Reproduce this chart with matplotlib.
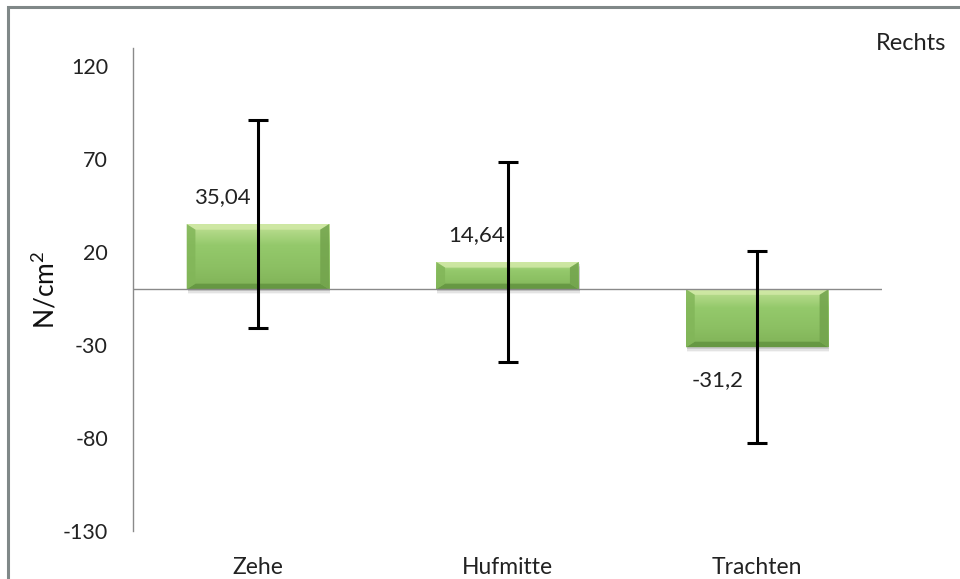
import numpy as np
import matplotlib.pyplot as plt
from matplotlib.patches import Rectangle, Polygon
from matplotlib.colors import LinearSegmentedColormap

plt.rcParams['font.family'] = ['Lato', 'DejaVu Sans']
plt.rcParams['mathtext.fontset'] = 'custom'
plt.rcParams['mathtext.rm'] = 'Lato'

# Data
categories = ['Zehe', 'Hufmitte', 'Trachten']
means = [35.04, 14.64, -31.2]
errors = [56.0, 54.0, 51.5]
labels = ['35,04', '14,64', '-31,2']
yticks = [-130, -80, -30, 20, 70, 120]
panel_title = 'Rechts'

fig = plt.figure(figsize=(9.6, 5.79), dpi=100)
ax = fig.add_axes([133 / 960, 48 / 579, 749 / 960, 483.5 / 579])

x = np.arange(len(categories))
bar_w = 0.57
bars = ax.bar(x, means, width=bar_w, color='#8cc264', zorder=2)

cmap = LinearSegmentedColormap.from_list(
    'bevel_green', ['#c2e197', '#94c96b', '#8cc063', '#80b257'])
grad = np.linspace(0, 1, 64).reshape(-1, 1)

for rect in bars:
    x0, y0 = rect.get_x(), rect.get_y()
    w, h = rect.get_width(), rect.get_height()
    ylo, yhi = min(y0, y0 + h), max(y0, y0 + h)
    # soft drop shadow
    for k, a in enumerate([0.10, 0.07, 0.04]):
        ax.add_patch(Rectangle((x0 + 0.004, ylo - 1.0 - 0.9 * k), w, yhi - ylo,
                               facecolor='#000000', alpha=a, lw=0, zorder=1))
    im = ax.imshow(grad, cmap=cmap, aspect='auto',
                   extent=(x0, x0 + w, ylo, yhi), origin='upper', zorder=2.1)
    im.set_clip_path(rect)
    # bevel edges
    dx, dy = 0.035, 3.0
    top = Polygon([(x0, yhi), (x0 + w, yhi), (x0 + w - dx, yhi - dy), (x0 + dx, yhi - dy)],
                  closed=True, facecolor='#d3eaa8', lw=0, alpha=0.8, zorder=2.2)
    bot = Polygon([(x0, ylo), (x0 + w, ylo), (x0 + w - dx, ylo + dy), (x0 + dx, ylo + dy)],
                  closed=True, facecolor='#5e8f3c', lw=0, alpha=0.75, zorder=2.2)
    left = Polygon([(x0, ylo), (x0, yhi), (x0 + dx, yhi - dy), (x0 + dx, ylo + dy)],
                   closed=True, facecolor='#82b659', lw=0, alpha=0.85, zorder=2.2)
    right = Polygon([(x0 + w, ylo), (x0 + w, yhi), (x0 + w - dx, yhi - dy), (x0 + w - dx, ylo + dy)],
                    closed=True, facecolor='#72a34c', lw=0, alpha=0.85, zorder=2.2)
    for p in (top, bot, left, right):
        ax.add_patch(p)

# zero line
ax.axhline(0, color='#8a8a8a', lw=1.0, zorder=2.5)

# error bars
ax.errorbar(x, means, yerr=errors, fmt='none', ecolor='black',
            elinewidth=2.2, capsize=7, capthick=2.2, zorder=3)

# value labels
offsets = [(-36, 27), (-31, 27), (-40, -33)]
for xi, m, lab, (ox, oy) in zip(x, means, labels, offsets):
    ax.annotate(lab, (xi, m), xytext=(ox, oy), textcoords='offset pixels',
                ha='center', va='center', fontsize=16, color='#222222', zorder=4)

ax.set_xlim(-0.5, len(categories) - 0.5)
ax.set_ylim(-130, 130)
ax.set_yticks(yticks)
ax.set_yticklabels([str(t) for t in yticks])
ax.set_xticks(x)
ax.set_xticklabels(categories)
ax.tick_params(axis='both', length=0, colors='#222222')
ax.tick_params(axis='y', pad=18, labelsize=15.5)
ax.tick_params(axis='x', pad=19, labelsize=16.5)

for s in ('top', 'right', 'bottom'):
    ax.spines[s].set_visible(False)
ax.spines['left'].set_color('#8a8a8a')
ax.spines['left'].set_linewidth(1.0)

fig.text(45 / 960, 1 - 290 / 579, r'N/cm$^{2}$', rotation=90, ha='center', va='center',
         fontsize=19, color='#111111')
fig.text(946 / 960, 1 - 43 / 579, panel_title, ha='right', va='center',
         fontsize=17, color='#222222')

# outer frame
fig.add_artist(Rectangle((8 / 960, -0.05), 1.1, 1 - 7 / 579 + 0.05,
                         transform=fig.transFigure, fill=False,
                         edgecolor='#808888', lw=2.2))

fig.savefig('out.png', dpi=100)
